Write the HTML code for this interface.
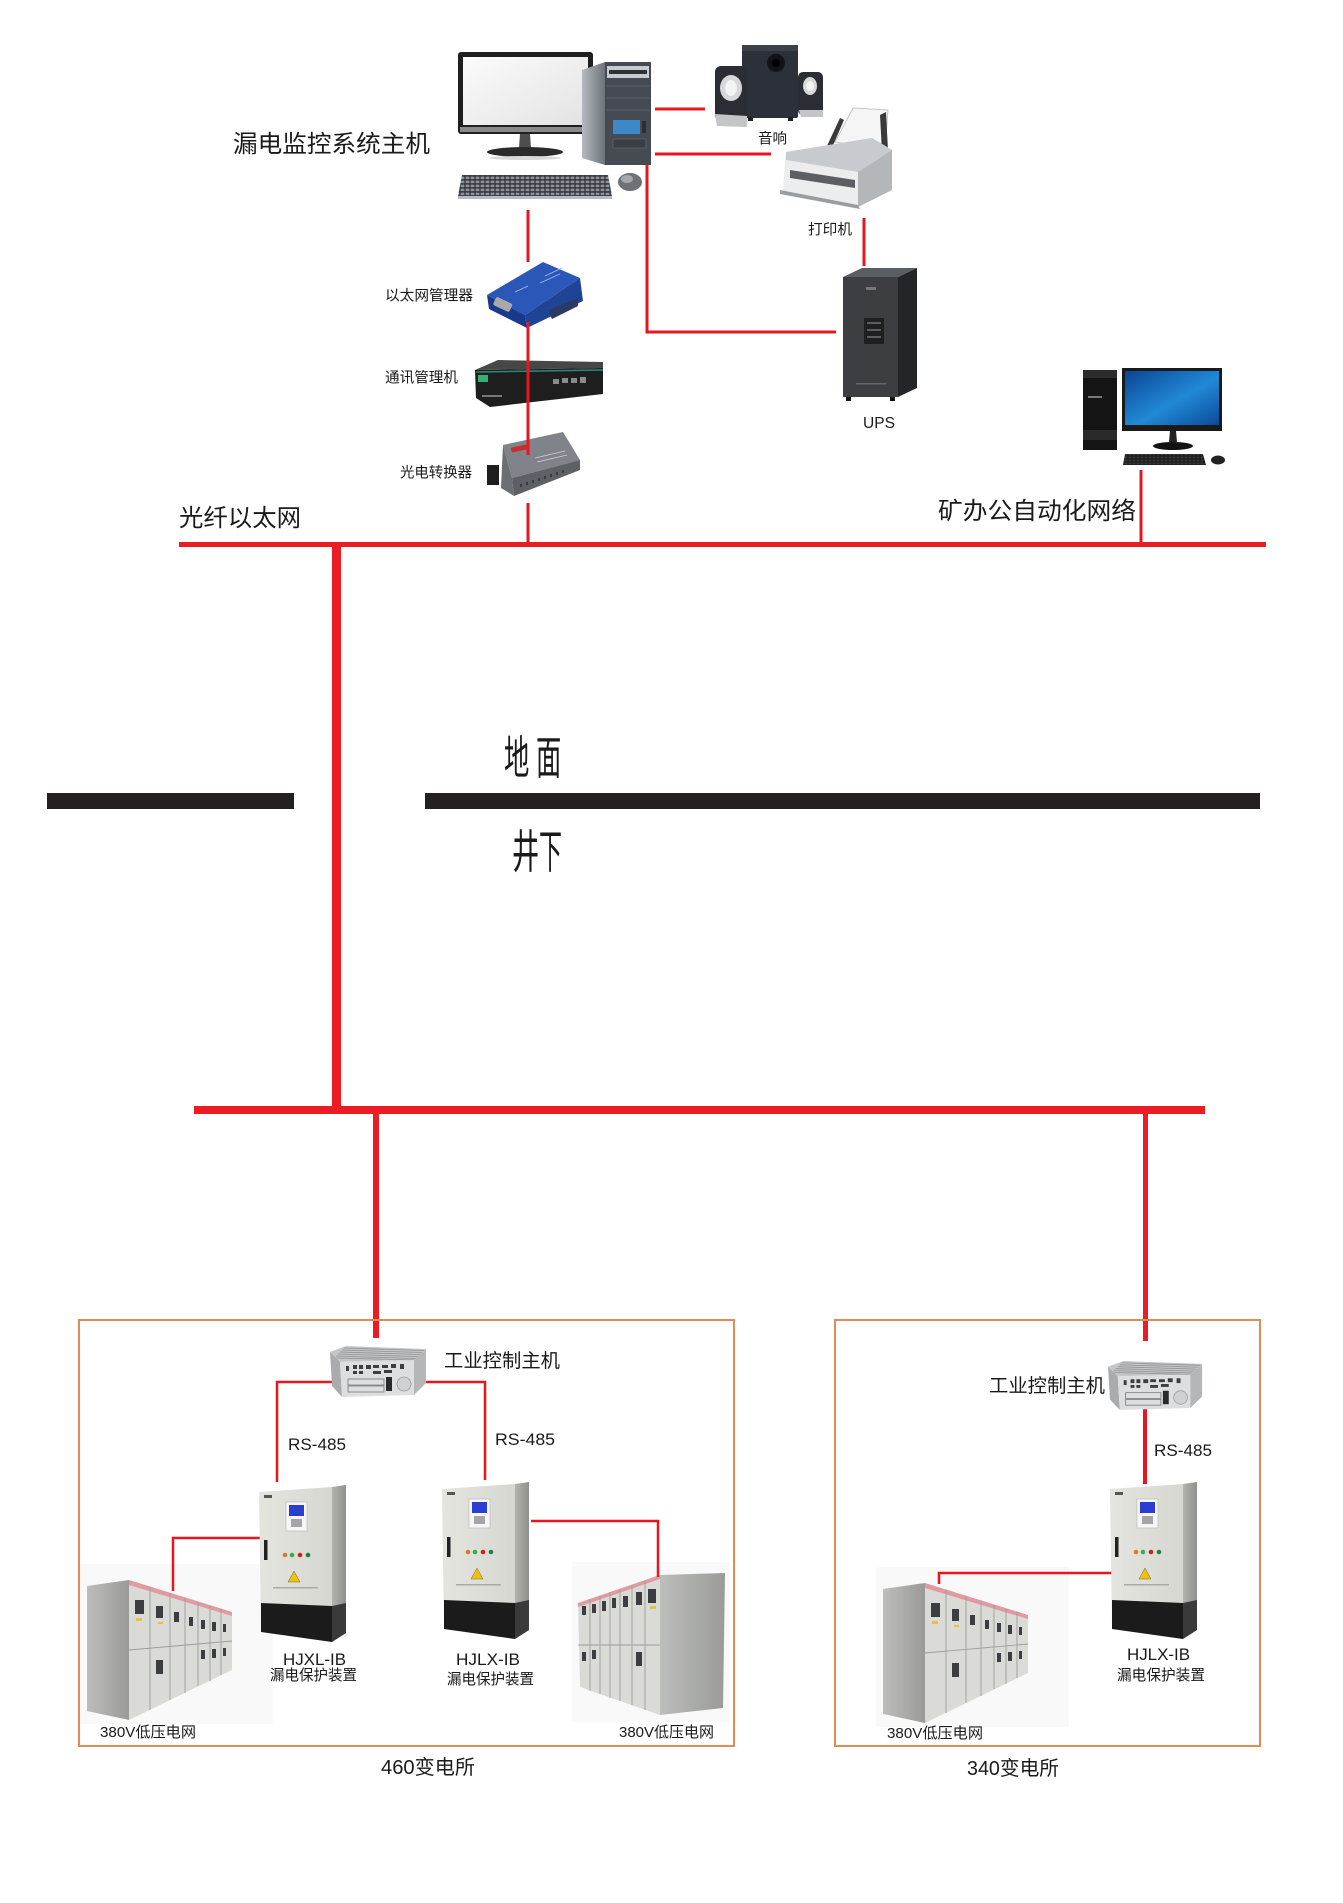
<!DOCTYPE html>
<html><head><meta charset="utf-8">
<style>
html,body{margin:0;padding:0;background:#fff;}
svg{display:block;}
text{font-family:"Liberation Sans","Noto Sans CJK SC",sans-serif;fill:#1a1a1a;}
</style></head><body>
<svg width="1343" height="1903" viewBox="0 0 1343 1903" xmlns="http://www.w3.org/2000/svg">
<defs>
 <linearGradient id="scr" x1="0" y1="0" x2="1" y2="1"><stop offset="0" stop-color="#fbfbfb"/><stop offset="1" stop-color="#e3e3e3"/></linearGradient>
 <linearGradient id="blu" x1="0" y1="0" x2="1" y2="1"><stop offset="0" stop-color="#0a4595"/><stop offset="0.55" stop-color="#2189d6"/><stop offset="1" stop-color="#0b4a9a"/></linearGradient>
 <linearGradient id="cabF" x1="0" y1="0" x2="1" y2="0"><stop offset="0" stop-color="#e4e5df"/><stop offset="1" stop-color="#d6d7d1"/></linearGradient>
 <linearGradient id="cabS" x1="0" y1="0" x2="1" y2="0"><stop offset="0" stop-color="#b3b4af"/><stop offset="1" stop-color="#8f908c"/></linearGradient>
 <linearGradient id="sgS" x1="0" y1="0" x2="1" y2="0"><stop offset="0" stop-color="#bdbebc"/><stop offset="1" stop-color="#9a9b99"/></linearGradient>
 <linearGradient id="twS" x1="0" y1="0" x2="1" y2="0"><stop offset="0" stop-color="#b5bac0"/><stop offset="1" stop-color="#6d737a"/></linearGradient>
 <pattern id="keys" width="5" height="4" patternUnits="userSpaceOnUse"><rect width="5" height="4" fill="#2e3136"/><rect x="0.6" y="0.6" width="3.8" height="2.6" fill="#8d939a"/></pattern>
 <pattern id="keys2" width="4" height="3" patternUnits="userSpaceOnUse"><rect width="4" height="3" fill="#151515"/><rect x="0.5" y="0.5" width="3" height="2" fill="#3a3a3a"/></pattern>

 <g id="cab">
  <polygon points="0,7 73,2 73,157 2,147" fill="url(#cabF)"/>
  <polygon points="73,2 87,0 87,148 73,157" fill="url(#cabS)"/>
  <polygon points="2,118 73,121 73,157 2,147" fill="#1b1b1b"/>
  <polygon points="73,121 87,118 87,148 73,157" fill="#3a3a3a"/>
  <rect x="27" y="17" width="21" height="29" fill="#f6f6f6" stroke="#b5b5b5" stroke-width="0.6"/>
  <rect x="30" y="20" width="15" height="11" fill="#2a3fcf"/>
  <rect x="32" y="34" width="11" height="8" fill="#a5a5a5"/>
  <rect x="5" y="55" width="3.5" height="20" fill="#222"/>
  <circle cx="26" cy="70" r="2.3" fill="#e07a20"/>
  <circle cx="33" cy="70" r="2.3" fill="#30b050"/>
  <circle cx="41" cy="70" r="2.3" fill="#d02020"/>
  <circle cx="49" cy="70" r="2.3" fill="#208040"/>
  <polygon points="35,86 41,97 29,97" fill="#f2c200" stroke="#666" stroke-width="0.5"/>
  <rect x="5" y="10" width="8" height="3" fill="#555"/>
  <rect x="14" y="102" width="45" height="1.5" fill="#aaa"/>
 </g>

 <g id="ipc">
  <polygon points="0,6 16,0 96,3 84,14 10,16" fill="#c4c6c8"/>
  <g stroke="#8e9092" stroke-width="0.8">
   <line x1="14" y1="2" x2="94" y2="4.5"/>
   <line x1="12" y1="4" x2="92" y2="6.5"/>
   <line x1="10" y1="6" x2="90" y2="8.5"/>
   <line x1="8" y1="8" x2="88" y2="10.5"/>
   <line x1="6" y1="10" x2="86" y2="12.5"/>
   <line x1="5" y1="12" x2="85" y2="14"/>
  </g>
  <polygon points="0,6 10,16 12,51 2,40" fill="#a9abad"/>
  <polygon points="10,16 84,14 84,49 12,51" fill="#dcdee0"/>
  <polygon points="84,14 96,3 96,37 84,49" fill="#b4b6b8"/>
  <g fill="#3a3d42">
   <rect x="16" y="20" width="3" height="5"/><rect x="23" y="19" width="4" height="4"/><rect x="29" y="19" width="4" height="4"/>
   <rect x="23" y="25" width="4" height="3"/><rect x="29" y="25" width="4" height="3"/>
   <rect x="36" y="19" width="5" height="4"/><rect x="43" y="19" width="6" height="3"/><rect x="52" y="19" width="6" height="3"/>
   <rect x="61" y="18" width="5" height="4"/><rect x="70" y="18" width="4" height="5"/>
   <rect x="43" y="25" width="8" height="3"/><rect x="54" y="24" width="8" height="3"/>
  </g>
  <g stroke="#777" stroke-width="0.8" fill="none">
   <rect x="18" y="33" width="36" height="6"/><rect x="18" y="40" width="36" height="6"/>
  </g>
  <rect x="56" y="31" width="6" height="14" fill="#2a2a2a"/>
  <circle cx="74" cy="38" r="7" fill="#cfd1d3" stroke="#9a9c9e" stroke-width="0.8"/>
 </g>

 <g id="sg">
  <rect x="80" y="1564" width="193" height="160" fill="#f9f9f9"/>
  <polygon points="87,1586 129,1580 129,1720 87,1711" fill="url(#sgS)"/>
  <polygon points="129,1580 232,1612 232,1670 129,1720" fill="#dadbd7"/>
  <polygon points="129,1580 232,1612 232,1616 129,1585" fill="#e29aa2"/>
  <g stroke="#9c9d9a" stroke-width="0.9">
   <line x1="150" y1="1587" x2="150" y2="1710"/>
   <line x1="170" y1="1593" x2="170" y2="1700"/>
   <line x1="185" y1="1598" x2="185" y2="1693"/>
   <line x1="198" y1="1602" x2="198" y2="1686"/>
   <line x1="210" y1="1606" x2="210" y2="1681"/>
   <line x1="221" y1="1609" x2="221" y2="1675"/>
   <line x1="129" y1="1650" x2="232" y2="1641"/>
  </g>
  <g fill="#3b3d40">
   <rect x="135" y="1600" width="9" height="14"/>
   <rect x="156" y="1606" width="7" height="12"/>
   <rect x="174" y="1612" width="5" height="10"/>
   <rect x="189" y="1617" width="4" height="9"/>
   <rect x="201" y="1620" width="4" height="9"/>
   <rect x="212" y="1622" width="4" height="9"/>
   <rect x="223" y="1624" width="3" height="8"/>
   <rect x="156" y="1660" width="7" height="14"/>
   <rect x="201" y="1650" width="4" height="9"/>
   <rect x="212" y="1649" width="4" height="9"/>
   <rect x="223" y="1648" width="3" height="8"/>
  </g>
  <g fill="#e8c040">
   <rect x="136" y="1618" width="6" height="3"/><rect x="158" y="1622" width="5" height="2"/>
  </g>
 </g>
</defs>

<!-- ===== TOP: red connectors ===== -->
<g stroke="#e8161e" stroke-width="3" fill="none">
 <line x1="655" y1="109" x2="705" y2="109"/>
 <line x1="655" y1="154" x2="771" y2="154"/>
 <line x1="864" y1="218" x2="864" y2="266"/>
 <polyline points="647,163 647,332 836,332"/>
 <line x1="528" y1="210" x2="528" y2="262"/>
</g>

<!-- Monitor -->
<rect x="458" y="52" width="135" height="82" rx="3" fill="#1f1f1f"/>
<rect x="463" y="57" width="125" height="68" fill="url(#scr)"/>
<rect x="460" y="127" width="131" height="5" fill="#8a8a8a"/>
<polygon points="520,134 530,134 531,148 519,148" fill="#4e4e4e"/>
<ellipse cx="525" cy="152" rx="38" ry="5" fill="#2a2a2a"/>
<ellipse cx="525" cy="158" rx="36" ry="2" fill="#d8d8d8"/>
<!-- Tower -->
<polygon points="582,70 605,62 605,165 582,158" fill="url(#twS)"/>
<rect x="605" y="62" width="46" height="103" fill="#464b53"/>
<rect x="607" y="66" width="42" height="12" fill="#c7cbd0"/>
<rect x="609" y="70" width="38" height="4" fill="#2f3236"/>
<g stroke="#5e636b" stroke-width="1"><line x1="607" y1="86" x2="649" y2="86"/><line x1="607" y1="98" x2="649" y2="98"/><line x1="607" y1="110" x2="649" y2="110"/></g>
<rect x="613" y="120" width="27" height="14" fill="#3d88c8"/>
<rect x="642" y="121" width="4" height="12" fill="#2a2d31"/>
<rect x="613" y="139" width="33" height="9" fill="#3a3e45" stroke="#60656c" stroke-width="0.8"/>
<!-- Keyboard -->
<polygon points="462,175 608,175 612,196 458,196" fill="url(#keys)"/>
<rect x="458" y="196" width="154" height="3" fill="#b8bbbf"/>
<!-- Mouse -->
<ellipse cx="630" cy="182" rx="12" ry="9" fill="#6e7176"/>
<ellipse cx="627" cy="179" rx="6" ry="4" fill="#a4a7ab"/>

<!-- Speakers -->
<rect x="742" y="45" width="56" height="73" rx="2" fill="#2c3038"/>
<rect x="742" y="45" width="56" height="6" fill="#3c4048"/>
<circle cx="776" cy="63" r="9" fill="#121316"/>
<circle cx="776" cy="63" r="4" fill="#000"/>
<rect x="748" y="117" width="5" height="4" fill="#222"/><rect x="788" y="117" width="5" height="4" fill="#222"/>
<rect x="715" y="66" width="32" height="55" rx="6" fill="#2a2d33"/>
<ellipse cx="731" cy="88" rx="11" ry="13" fill="#d6d8da"/>
<ellipse cx="731" cy="88" rx="6" ry="8" fill="#f4f4f4"/>
<polygon points="715,114 747,116 747,127 717,126" fill="#c3c5c8"/>
<rect x="798" y="72" width="25" height="43" rx="5" fill="#2a2d33"/>
<ellipse cx="810" cy="86" rx="7" ry="9" fill="#d6d8da"/>
<ellipse cx="810" cy="86" rx="4" ry="5" fill="#f4f4f4"/>
<polygon points="799,110 823,110 823,117 801,117" fill="#c3c5c8"/>

<!-- Printer -->
<polygon points="835,142 853,108 888,110 885,150" fill="#f5f5f5" stroke="#c6c6c6" stroke-width="1"/>
<polygon points="826,148 840,118 844,120 831,150" fill="#3a3a3a"/>
<polygon points="880,115 886,112 888,150 882,152" fill="#3a3a3a"/>
<polygon points="786,152 872,138 892,150 892,190 858,207 783,192" fill="#dcdee0"/>
<polygon points="786,152 872,138 892,150 858,172 786,160" fill="#c7cace"/>
<polygon points="786,160 858,172 858,207 783,192" fill="#ecedee"/>
<polygon points="858,172 892,150 892,190 858,207" fill="#b4b7ba"/>
<polygon points="790,170 855,180 855,188 790,178" fill="#5b5e62"/>
<polygon points="780,190 858,205 860,209 780,194" fill="#9a9da0"/>

<!-- UPS -->
<polygon points="843,277 862,268 917,268 898,277" fill="#5a5d61"/>
<rect x="843" y="277" width="55" height="120" fill="#3c3e42"/>
<polygon points="898,277 917,268 917,388 898,397" fill="#232528"/>
<rect x="864" y="318" width="20" height="26" fill="#1e1f21"/>
<g stroke="#bbb" stroke-width="0.8"><line x1="867" y1="323" x2="881" y2="323"/><line x1="867" y1="330" x2="881" y2="330"/><line x1="867" y1="337" x2="881" y2="337"/></g>
<rect x="866" y="287" width="10" height="3" fill="#777"/>
<rect x="856" y="383" width="30" height="1.5" fill="#666"/>
<rect x="846" y="397" width="5" height="4" fill="#111"/><rect x="890" y="397" width="5" height="4" fill="#111"/>

<!-- Ethernet manager (blue) -->
<polygon points="487,295 543,262 580,278 525,315" fill="#2b57b8"/>
<polygon points="487,295 525,315 527,328 489,309" fill="#19398a"/>
<polygon points="525,315 580,278 583,301 527,328" fill="#1f4496"/>
<rect x="494" y="300" width="18" height="9" rx="2" fill="#a7a9ac" transform="rotate(25 503 304)"/>
<polygon points="548,310 578,298 578,306 552,319" fill="#2a3a66"/>
<g stroke="#a9bbe3" stroke-width="0.8"><line x1="545" y1="276" x2="562" y2="268"/><line x1="540" y1="283" x2="560" y2="274"/><line x1="515" y1="292" x2="528" y2="286"/></g>

<!-- Comm manager -->
<polygon points="475,370 498,360 603,362 603,368" fill="#474747"/>
<polygon points="475,370 603,368 603,394 490,407 476,398" fill="#1e1e1e"/>
<line x1="476" y1="372" x2="603" y2="370" stroke="#2a8a7a" stroke-width="1.5"/>
<rect x="478" y="375" width="10" height="7" fill="#35b070"/>
<g fill="#8a8a8a"><rect x="553" y="379" width="6" height="5"/><rect x="562" y="378" width="6" height="5"/><rect x="571" y="378" width="6" height="5"/><rect x="580" y="377" width="6" height="6"/></g>
<rect x="482" y="395" width="20" height="2" fill="#777"/>

<!-- Converter -->
<polygon points="503,445 563,432 580,460 512,478" fill="#80848a"/>
<polygon points="512,478 580,460 580,470 514,496" fill="#5d6166"/>
<polygon points="503,445 512,478 514,496 501,488" fill="#6b6f74"/>
<rect x="487" y="465" width="12" height="20" fill="#1e1e1e"/>
<rect x="511" y="446" width="16" height="5" fill="#c43030" transform="rotate(-12 519 448)"/>
<g stroke="#d0d3d6" stroke-width="0.7"><line x1="535" y1="458" x2="565" y2="451"/><line x1="537" y1="462" x2="567" y2="455"/></g>
<g fill="#3a3d40"><rect x="520" y="484" width="2" height="3"/><rect x="526" y="482" width="2" height="3"/><rect x="532" y="480" width="2" height="3"/><rect x="538" y="478" width="2" height="3"/><rect x="544" y="476" width="2" height="3"/><rect x="550" y="474" width="2" height="3"/><rect x="556" y="472" width="2" height="3"/><rect x="562" y="470" width="2" height="3"/></g>

<!-- line through devices -->
<line x1="528" y1="322" x2="528" y2="455" stroke="#e8161e" stroke-width="3"/>
<line x1="528" y1="503" x2="528" y2="544" stroke="#e8161e" stroke-width="3"/>

<!-- Right PC -->
<rect x="1083" y="370" width="34" height="80" fill="#141414"/>
<rect x="1083" y="370" width="34" height="8" fill="#2c2c2c"/>
<rect x="1083" y="430" width="34" height="10" fill="#2a2a2a"/>
<rect x="1088" y="396" width="14" height="2" fill="#777"/>
<rect x="1122" y="368" width="100" height="63" fill="#1a1a1a"/>
<rect x="1125" y="371" width="94" height="54" fill="url(#blu)"/>
<polygon points="1170,431 1176,431 1177,442 1169,442" fill="#222"/>
<ellipse cx="1173" cy="446" rx="20" ry="4" fill="#111"/>
<polygon points="1125,454 1203,454 1206,465 1123,465" fill="url(#keys2)"/>
<ellipse cx="1218" cy="460" rx="7" ry="4.5" fill="#222"/>
<line x1="1141" y1="470" x2="1141" y2="544" stroke="#e8161e" stroke-width="3"/>

<!-- ===== Buses ===== -->
<rect x="179" y="542" width="1087" height="5" fill="#ec1c24"/>
<rect x="332" y="542" width="9" height="572" fill="#ec1c24"/>
<rect x="194" y="1106" width="1011" height="8" fill="#ec1c24"/>
<rect x="373" y="1110" width="6" height="228" fill="#ec1c24"/>
<rect x="1143" y="1110" width="5" height="231" fill="#ec1c24"/>

<!-- Black bars -->
<rect x="47" y="793" width="247" height="16" fill="#242021"/>
<rect x="425" y="793" width="835" height="16" fill="#242021"/>

<!-- switchgear -->
<use href="#sg"/>
<use href="#sg" transform="translate(796,3)"/>
<!-- right switchgear in left box (mirrored) -->
<rect x="572" y="1562" width="158" height="160" fill="#f9f9f9"/>
<polygon points="578,1603 660,1575 660,1715 580,1687" fill="#dadbd7"/>
<polygon points="578,1603 660,1575 660,1579 578,1607" fill="#e29aa2"/>
<polygon points="660,1575 725,1573 723,1708 660,1715" fill="url(#sgS)"/>
<g stroke="#9c9d9a" stroke-width="0.9">
 <line x1="590" y1="1599" x2="590" y2="1691"/>
 <line x1="600" y1="1596" x2="600" y2="1694"/>
 <line x1="610" y1="1592" x2="610" y2="1698"/>
 <line x1="620" y1="1589" x2="620" y2="1701"/>
 <line x1="632" y1="1585" x2="632" y2="1705"/>
 <line x1="645" y1="1580" x2="645" y2="1710"/>
 <line x1="578" y1="1645" x2="660" y2="1645"/>
</g>
<g fill="#3b3d40">
 <rect x="582" y="1606" width="4" height="9"/><rect x="592" y="1604" width="4" height="9"/><rect x="602" y="1601" width="4" height="10"/>
 <rect x="612" y="1598" width="4" height="10"/><rect x="623" y="1596" width="5" height="11"/><rect x="636" y="1592" width="6" height="13"/>
 <rect x="648" y="1589" width="8" height="14"/><rect x="636" y="1652" width="6" height="14"/><rect x="592" y="1650" width="4" height="9"/><rect x="582" y="1652" width="4" height="9"/>
</g>
<rect x="650" y="1606" width="6" height="3" fill="#e8c040"/>

<!-- ===== Boxes (drawn after switchgear backgrounds) ===== -->
<rect x="79" y="1320" width="655" height="426" fill="none" stroke="#e38b52" stroke-width="2"/>
<rect x="835" y="1320" width="425" height="426" fill="none" stroke="#e38b52" stroke-width="2"/>

<!-- Lower connectors -->
<g stroke="#e8161e" stroke-width="2.5" fill="none">
 <polyline points="335,1382 277,1382 277,1482"/>
 <polyline points="426,1382 485,1382 485,1480"/>
 <polyline points="262,1538 173,1538 173,1591"/>
 <polyline points="531,1521 658,1521 658,1577"/>
 <polyline points="1112,1573 939,1573 939,1584"/>
</g>
<line x1="1145" y1="1408" x2="1145" y2="1484" stroke="#e8161e" stroke-width="4"/>

<!-- devices lower -->
<use href="#ipc" transform="translate(330,1346)"/>
<use href="#ipc" transform="translate(1108,1361) scale(0.98,0.96)"/>
<use href="#cab" transform="translate(259,1485)"/>
<use href="#cab" transform="translate(442,1482)"/>
<use href="#cab" transform="translate(1110,1482)"/>

<!-- ===== Text ===== -->
<text x="233" y="152" font-size="24" textLength="197" lengthAdjust="spacingAndGlyphs">漏电监控系统主机</text>
<text x="758" y="143.5" font-size="14.5" textLength="29" lengthAdjust="spacingAndGlyphs">音响</text>
<text x="808" y="234.5" font-size="14.5" textLength="44" lengthAdjust="spacingAndGlyphs">打印机</text>
<text x="863" y="428" font-size="16" textLength="32" lengthAdjust="spacingAndGlyphs">UPS</text>
<text x="385" y="300.5" font-size="14.5" textLength="88" lengthAdjust="spacingAndGlyphs">以太网管理器</text>
<text x="385" y="382.5" font-size="14.5" textLength="73" lengthAdjust="spacingAndGlyphs">通讯管理机</text>
<text x="400" y="477.5" font-size="14.5" textLength="72" lengthAdjust="spacingAndGlyphs">光电转换器</text>
<text x="179" y="526" font-size="24" textLength="122" lengthAdjust="spacingAndGlyphs">光纤以太网</text>
<text x="938" y="519" font-size="24" textLength="198" lengthAdjust="spacingAndGlyphs">矿办公自动化网络</text>

<text font-size="46" transform="translate(504,774) scale(0.55,1)">地</text>
<text font-size="46" transform="translate(536,774) scale(0.55,1)">面</text>
<text font-size="46" transform="translate(512,868) scale(0.59,1)">井</text>
<text font-size="46" transform="translate(539,868) scale(0.5,1)">下</text>

<text x="444" y="1367" font-size="19" textLength="116" lengthAdjust="spacingAndGlyphs">工业控制主机</text>
<text x="989" y="1392" font-size="19" textLength="116" lengthAdjust="spacingAndGlyphs">工业控制主机</text>
<text x="288" y="1450" font-size="17" textLength="58" lengthAdjust="spacingAndGlyphs">RS-485</text>
<text x="495" y="1445" font-size="17" textLength="60" lengthAdjust="spacingAndGlyphs">RS-485</text>
<text x="1154" y="1456" font-size="17" textLength="58" lengthAdjust="spacingAndGlyphs">RS-485</text>
<text x="283" y="1665" font-size="17" textLength="63" lengthAdjust="spacingAndGlyphs">HJXL-IB</text>
<text x="270" y="1680" font-size="15" textLength="87" lengthAdjust="spacingAndGlyphs">漏电保护装置</text>
<text x="456" y="1665" font-size="17" textLength="64" lengthAdjust="spacingAndGlyphs">HJLX-IB</text>
<text x="447" y="1684" font-size="15" textLength="87" lengthAdjust="spacingAndGlyphs">漏电保护装置</text>
<text x="1127" y="1660" font-size="17" textLength="63" lengthAdjust="spacingAndGlyphs">HJLX-IB</text>
<text x="1117" y="1680" font-size="15" textLength="88" lengthAdjust="spacingAndGlyphs">漏电保护装置</text>
<text x="100" y="1737" font-size="15" textLength="96" lengthAdjust="spacingAndGlyphs">380V低压电网</text>
<text x="619" y="1737" font-size="15" textLength="95" lengthAdjust="spacingAndGlyphs">380V低压电网</text>
<text x="887" y="1738" font-size="15" textLength="96" lengthAdjust="spacingAndGlyphs">380V低压电网</text>
<text x="381" y="1774" font-size="20" textLength="94" lengthAdjust="spacingAndGlyphs">460变电所</text>
<text x="967" y="1775" font-size="20" textLength="92" lengthAdjust="spacingAndGlyphs">340变电所</text>
</svg>
</body></html>
